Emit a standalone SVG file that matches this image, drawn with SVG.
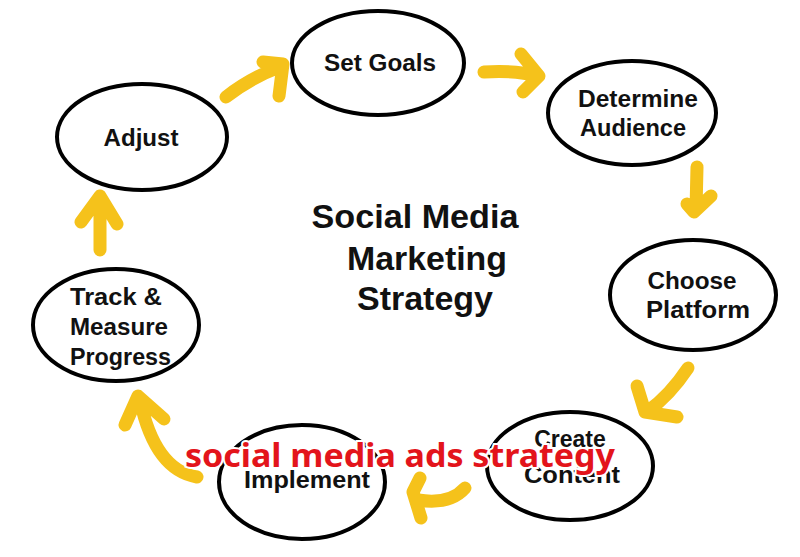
<svg xmlns="http://www.w3.org/2000/svg" width="800" height="557" viewBox="0 0 800 557">
<style>
.n ellipse{fill:#fff;stroke:#000;stroke-width:4}
.t{font-family:"Liberation Sans",Arial,sans-serif;font-weight:bold;font-size:23px;fill:#111;text-anchor:middle}
.l{text-anchor:start}
.h{font-family:"Liberation Sans",Arial,sans-serif;font-weight:bold;font-size:33px;fill:#111;text-anchor:middle}
.a{fill:none;stroke:#f5c21b;stroke-width:13;stroke-linecap:round;stroke-linejoin:round}
.w{font-family:"Noto Sans","DejaVu Sans",sans-serif;font-weight:bold;font-size:33px;fill:#e3141b;stroke:#fff;stroke-width:4;paint-order:stroke;text-anchor:middle}
</style>
<rect width="800" height="557" fill="#fff"/>
<g id="connectors">
<path class="a" d="M226,97 Q250,78 282,66 M263,62 L283,64 L279,96"/>
<path class="a" d="M484,72 Q515,70 538,76 M521,54 L539,76 L523,92"/>
<path class="a" d="M697,167 L696,210 M687,204 L694,212 L711,196"/>
<path class="a" d="M688,368 Q670,395 648,411 M637,386 L645,412 L677,417"/>
<path class="a" d="M465,488 Q450,505 418,500 M420,478 L413,492 L421,518"/>
<path class="a" d="M197,477 Q155,470 140,400 M125,425 L138,396 L164,419"/>
<path class="a" d="M100,250 L100,200 M81,222 L100,196 L117,224"/>
</g>
<g id="set-goals" class="n"><ellipse cx="378" cy="63" rx="86" ry="52"/><text class="t" x="380" y="71" textLength="112" lengthAdjust="spacingAndGlyphs">Set Goals</text></g>
<g id="determine-audience" class="n"><ellipse cx="632" cy="113" rx="84" ry="52"/><text class="t" x="638" y="107" textLength="120" lengthAdjust="spacingAndGlyphs">Determine</text><text class="t" x="633" y="136" textLength="106" lengthAdjust="spacingAndGlyphs">Audience</text></g>
<g id="choose-platform" class="n"><ellipse cx="693" cy="295" rx="83" ry="55"/><text class="t" x="692" y="289" textLength="89" lengthAdjust="spacingAndGlyphs">Choose</text><text class="t" x="698" y="318" textLength="104" lengthAdjust="spacingAndGlyphs">Platform</text></g>
<g id="create-content" class="n"><ellipse cx="570" cy="466" rx="83" ry="54"/><text class="t" x="570" y="447">Create</text><text class="t" x="572" y="483" textLength="96" lengthAdjust="spacingAndGlyphs">Content</text></g>
<g id="implement" class="n"><ellipse cx="302" cy="482" rx="83" ry="57"/><text class="t" x="307" y="488" textLength="126" lengthAdjust="spacingAndGlyphs">Implement</text></g>
<g id="track-measure-progress" class="n"><ellipse cx="116" cy="325" rx="83" ry="56"/><text class="t l" x="70" y="305" textLength="92" lengthAdjust="spacingAndGlyphs">Track &amp;</text><text class="t l" x="70" y="335" textLength="98" lengthAdjust="spacingAndGlyphs">Measure</text><text class="t l" x="70" y="365" textLength="101" lengthAdjust="spacingAndGlyphs">Progress</text></g>
<g id="adjust" class="n"><ellipse cx="142" cy="137" rx="85" ry="53"/><text class="t" x="141" y="146" textLength="75" lengthAdjust="spacingAndGlyphs">Adjust</text></g>
<g id="title">
<text class="h" x="415" y="228" textLength="207" lengthAdjust="spacingAndGlyphs">Social Media</text>
<text class="h" x="427" y="270" textLength="160" lengthAdjust="spacingAndGlyphs">Marketing</text>
<text class="h" x="425" y="310" textLength="136" lengthAdjust="spacingAndGlyphs">Strategy</text>
</g>
<text class="w" x="400" y="467" textLength="430" lengthAdjust="spacingAndGlyphs">social media ads strategy</text>
</svg>
